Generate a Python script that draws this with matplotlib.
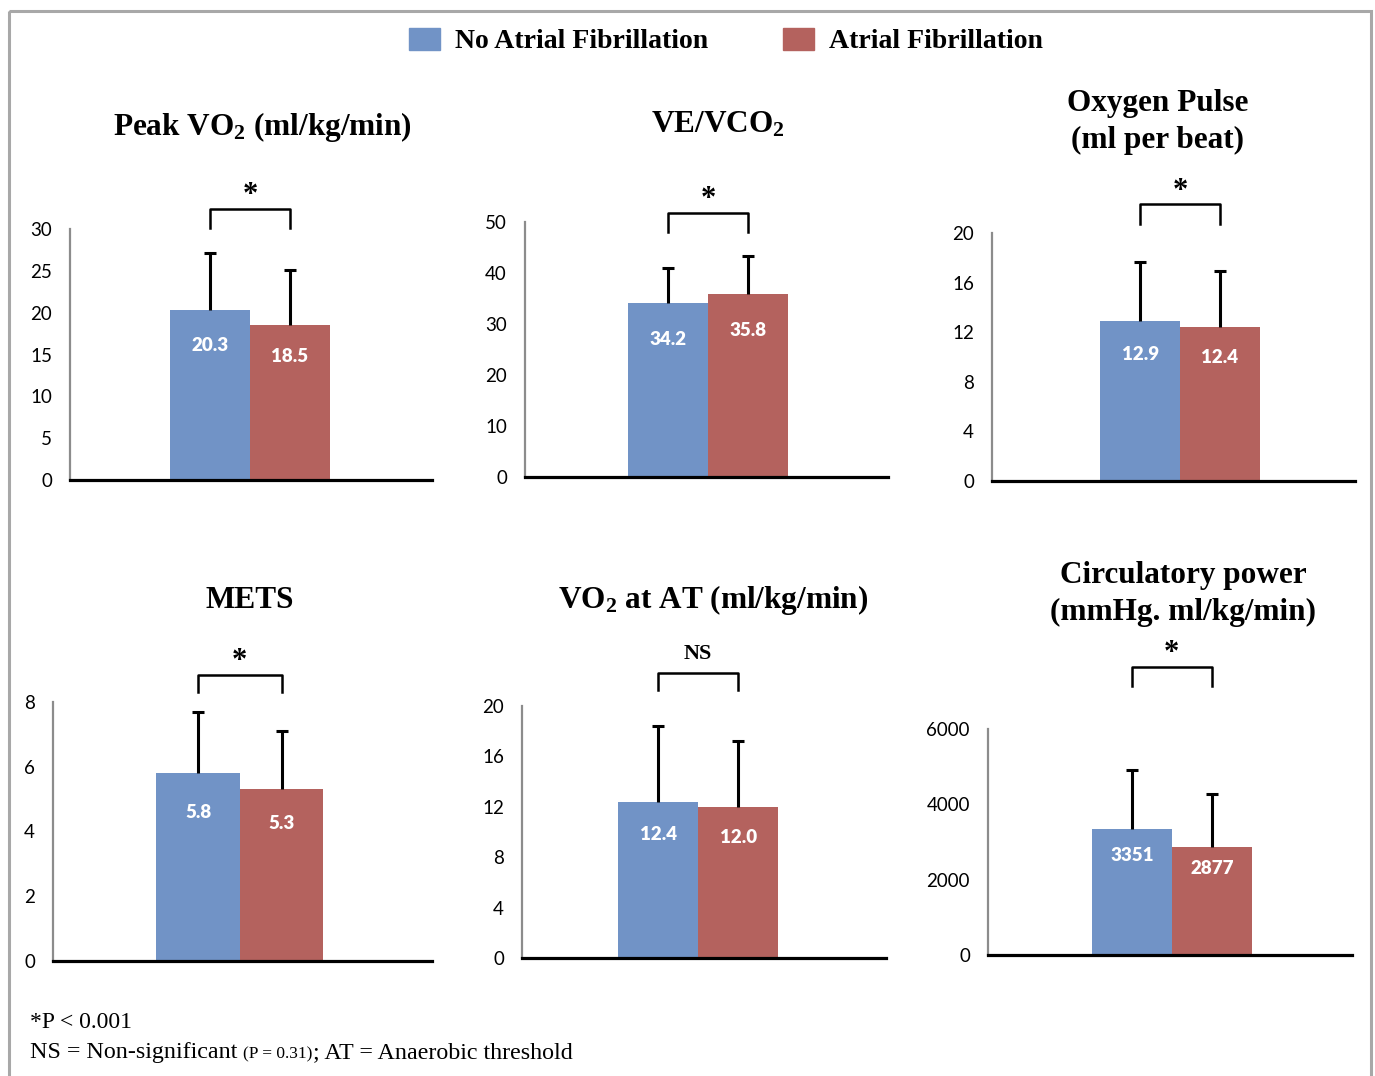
import matplotlib
matplotlib.use('Agg')
import matplotlib.pyplot as plt
from matplotlib.patches import Patch, Rectangle

plt.rcParams['mathtext.fontset'] = 'custom'
plt.rcParams['mathtext.rm'] = 'Liberation Serif'
plt.rcParams['mathtext.bf'] = 'Liberation Serif:bold'
plt.rcParams['mathtext.default'] = 'bf'

# data
titles = ['Peak VO$_2$ (ml/kg/min)', 'VE/VCO$_2$', 'Oxygen Pulse\n(ml per beat)',
          'METS', 'VO$_2$ at AT (ml/kg/min)', 'Circulatory power\n(mmHg. ml/kg/min)']
no_af = [20.3, 34.2, 12.9, 5.8, 12.4, 3351]
af = [18.5, 35.8, 12.4, 5.3, 12.0, 2877]
no_af_sd = [6.8, 6.8, 4.8, 1.9, 6.0, 1560]
af_sd = [6.6, 7.5, 4.5, 1.8, 5.2, 1400]
no_af_lbl = ['20.3', '34.2', '12.9', '5.8', '12.4', '3351']
af_lbl = ['18.5', '35.8', '12.4', '5.3', '12.0', '2877']
signif = ['*', '*', '*', '*', 'NS', '*']
y_max = [30, 50, 20, 8, 20, 6000]
y_step = [5, 10, 4, 2, 4, 2000]
footer_parts = ['NS = Non-significant ', '(P = 0.31)', '; AT = Anaerobic threshold']
footer_sizes = [17.3, 12.5, 17.3]

BLUE = '#7193c6'
RED = '#b4625e'
W, H = 1375, 1076

# layout (pixels): left, top, right, bottom of each plot area
boxes = [(70, 229, 432, 480), (525, 222, 888, 477), (992, 233, 1355, 481),
         (53, 702, 432, 961), (522, 706, 886, 958), (988, 729, 1352, 955)]
centers = [0.497, 0.504, 0.518, 0.493, 0.484, 0.505]
title_xy = [(262, 127), (718, 125), (1158, 122), (250, 600), (713, 600), (1183, 594)]
bracket = [(30.1, 32.4), (48.0, 51.8), (20.7, 22.3), (8.3, 8.83), (21.3, 22.6), (7140, 7645)]
bw = 0.22


def err_up(ax, x, y, sd):
    eb = ax.errorbar([x], [y], yerr=[[0], [sd]], fmt='none', ecolor='black',
                     elinewidth=2.2, capsize=4.5, capthick=2.2, zorder=3)
    eb[1][0].set_visible(False)  # no cap at the bar top


fig = plt.figure(figsize=(W / 100, H / 100), dpi=100)
bg = fig.add_axes([0, 0, 1, 1])
bg.set_xlim(0, W)
bg.set_ylim(H, 0)
bg.axis('off')
bg.add_patch(Rectangle((9, 11), 1362, 1100, fill=False, ec='#a8a8a8', lw=2.2))

for i in range(6):
    l, t, r, b = boxes[i]
    ax = fig.add_axes([l / W, 1 - b / H, (r - l) / W, (b - t) / H])
    c = centers[i]
    x1, x2 = c - bw / 2, c + bw / 2
    ax.bar([x1, x2], [no_af[i], af[i]], width=bw, color=[BLUE, RED], zorder=2)
    err_up(ax, x1, no_af[i], no_af_sd[i])
    err_up(ax, x2, af[i], af_sd[i])
    ax.text(x1, no_af[i] * 0.79, no_af_lbl[i], color='white', ha='center', va='center',
            family='Lato', weight='heavy', fontsize=13.5)
    ax.text(x2, af[i] * 0.8, af_lbl[i], color='white', ha='center', va='center',
            family='Lato', weight='heavy', fontsize=13.5)

    ax.set_xlim(0, 1)
    ax.set_ylim(0, y_max[i])
    ax.set_yticks(range(0, y_max[i] + 1, y_step[i]))
    ax.set_xticks([])
    ax.tick_params(axis='y', length=0, pad=13, labelsize=13.5)
    for lab in ax.get_yticklabels():
        lab.set_family('Lato')
    ax.spines['top'].set_visible(False)
    ax.spines['right'].set_visible(False)
    ax.spines['left'].set_color('#8c8c8c')
    ax.spines['left'].set_linewidth(1.6)
    ax.spines['bottom'].set_linewidth(2.3)
    ax.spines['bottom'].set_zorder(4)

    # significance bracket
    lo, hi = bracket[i]
    ax.plot([x1, x1, x2, x2], [lo, hi, hi, lo], color='black', lw=1.8, clip_on=False)
    if signif[i] == '*':
        ax.annotate('*', xy=(c, hi), xytext=(0, 9.5), textcoords='offset points',
                    ha='center', va='center', family='Liberation Serif', weight='bold',
                    fontsize=22, annotation_clip=False)
    else:
        ax.annotate(signif[i], xy=(c, hi), xytext=(0, 14), textcoords='offset points',
                    ha='center', va='center', family='Liberation Serif', weight='bold',
                    fontsize=16, annotation_clip=False)

    tx, ty = title_xy[i]
    bg.text(tx, ty, titles[i], ha='center', va='center', family='Liberation Serif',
            weight='bold', fontsize=22.5, linespacing=1.4)

handles = [Patch(color=BLUE), Patch(color=RED)]
fig.legend(handles, ['No Atrial Fibrillation', 'Atrial Fibrillation'], ncol=2,
           loc='center', bbox_to_anchor=(0.528, 0.962), frameon=False,
           prop={'family': 'Liberation Serif', 'weight': 'bold', 'size': 20},
           handlelength=1.1, handleheight=0.85, handletextpad=0.55, columnspacing=2.7)

# footnote
bg.text(30, 1022, '*P < 0.001', va='center', family='Liberation Serif', fontsize=17)
renderer = fig.canvas.get_renderer()
x = 30
for part, size in zip(footer_parts, footer_sizes):
    t = bg.text(x, 1058, part, va='baseline', family='Liberation Serif', fontsize=size)
    x_end = t.get_window_extent(renderer).x1
    x = bg.transData.inverted().transform((x_end, 0))[0]

fig.savefig('out.png', dpi=100)
